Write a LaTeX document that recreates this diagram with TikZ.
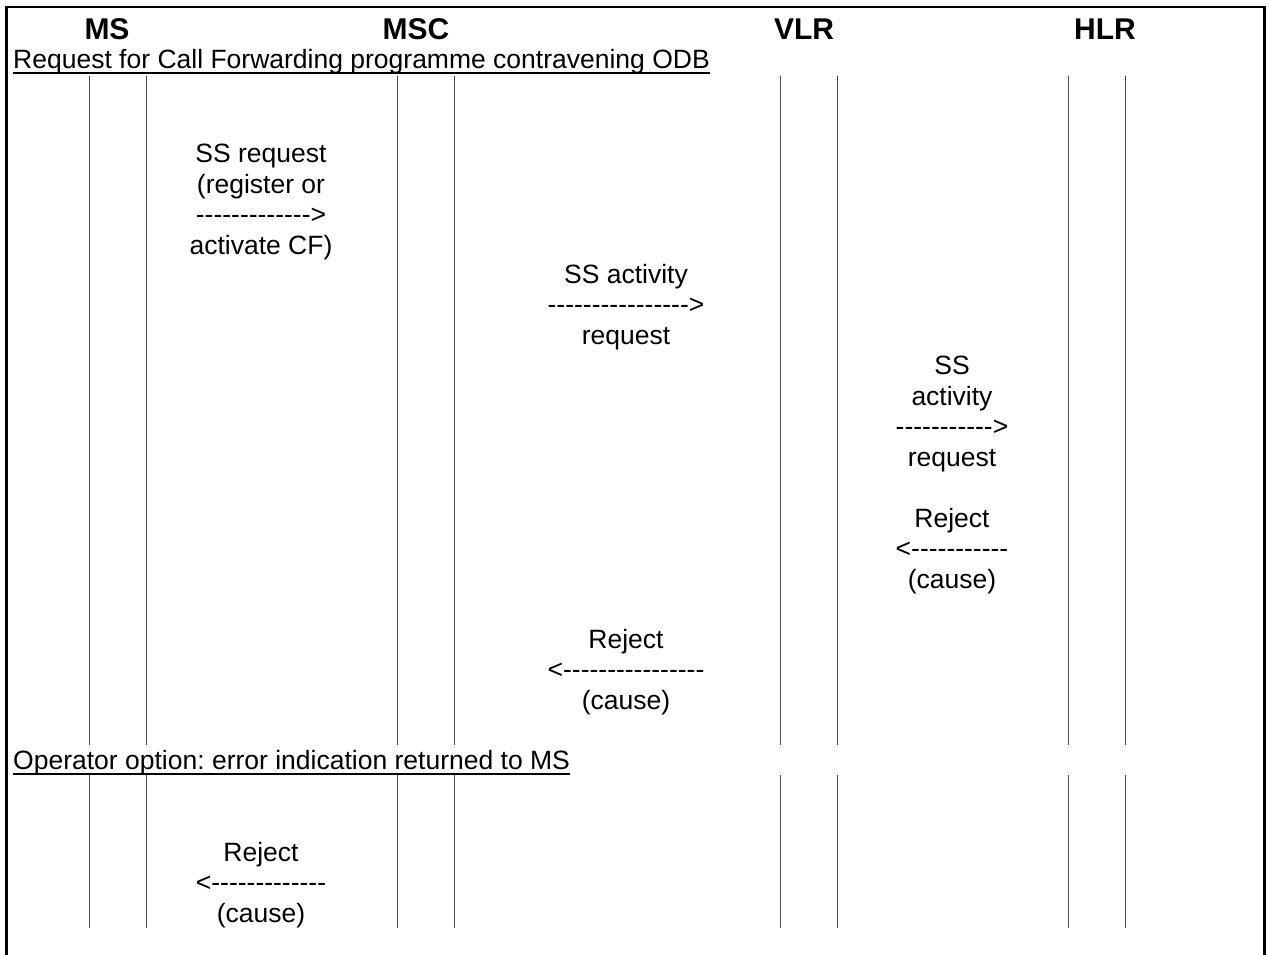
\documentclass[tikz,border=0pt]{standalone}
\usepackage{fontspec}
\setmainfont{Liberation Sans}[Ligatures=TeXOff]
\usetikzlibrary{positioning}
\frenchspacing
\tikzset{
every node/.style={font=\fontsize{26.5}{30.5}\selectfont,align=center,inner sep=0pt},
entity/.style={anchor=base,font=\fontsize{30}{34}\selectfont\bfseries},
phase/.style={anchor=base west},
msg/.style={anchor=center},
lifeline/.style={draw=black!70,line width=0.9pt},
underl/.style={draw=black,line width=1.6pt},
frame/.style={draw=black,line width=2.3pt}
}

\begin{document}
\begin{tikzpicture}[x=1pt,y=-1pt]
   \useasboundingbox (0,0) rectangle (1270,954);
   \draw[frame] (6.5,965) -- (6.5,7) -- (1264.5,7) -- (1264.5,965);

   % entities
   \node[entity] (ms)  at (107,39)  {MS};
   \node[entity] (msc) at (416,39)  {MSC};
   \node[entity] (vlr) at (804,39)  {VLR};
   \node[entity] (hlr) at (1105,39) {HLR};

   % phases
   \node[phase] (ph1) at (13,68)  {Request for Call Forwarding programme contravening ODB};
   \node[phase] (ph2) at (13,769) {Operator option: error indication returned to MS};
   \draw[underl] ([yshift=-5pt]ph1.base west) -- ([yshift=-5pt]ph1.base east);
   \draw[underl] ([yshift=-5pt]ph2.base west) -- ([yshift=-5pt]ph2.base east);

   % lifelines
   \foreach \n/\x in {ms1/89, ms2/146, msc1/397, msc2/454, vlr1/780, vlr2/837, hlr1/1068, hlr2/1125}{
      \coordinate (\n top)  at (\x,76);
      \coordinate (\n mid)  at (\x,745);
      \coordinate (\n top2) at (\x,775);
      \coordinate (\n bot)  at (\x,928);
      \draw[lifeline] (\n top) -- (\n mid);
      \draw[lifeline] (\n top2) -- (\n bot);
   }

   % messages
   \node[msg] (ssreq) at (261,202) {SS request\\(register or\\------------->\\activate CF)};
   \node[msg] (act1)  at (626,307) {SS activity\\---------------->\\request};
   \node[msg] (act2)  at (952,414) {SS\\activity\\----------->\\request};
   \node[msg] (rej1)  at (952,551) {Reject\\<-----------\\(cause)};
   \node[msg] (rej2)  at (626,672) {Reject\\<----------------\\(cause)};
   \node[msg] (rej3)  at (261,885) {Reject\\<-------------\\(cause)};
\end{tikzpicture}
\end{document}
